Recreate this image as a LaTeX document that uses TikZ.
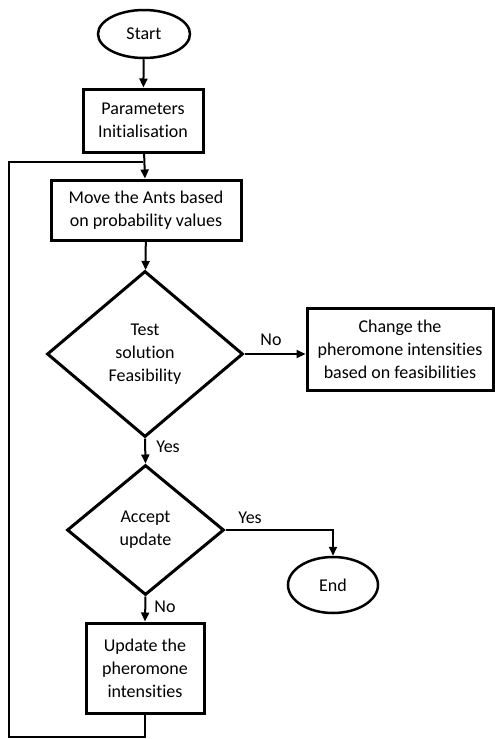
\documentclass[tikz,border=0pt]{standalone}
\usepackage{fontspec}
\setmainfont{Carlito}[Ligatures=NoCommon]
\usetikzlibrary{shapes.geometric,arrows.meta,positioning}

\tikzset{
  txt/.style={font=\fontsize{18}{23}\selectfont,align=center,inner sep=0pt},
  blk/.style={txt,draw,line width=3pt},
  term/.style={txt,draw,ellipse,line width=2.5pt},
  dec/.style={txt,draw,diamond,line width=3pt},
  flow/.style={line width=2pt,-{Triangle[length=9pt,width=8pt]}},
  link/.style={line width=2pt}
}

\begin{document}
\begin{tikzpicture}[x=1pt,y=-1pt]
\useasboundingbox (0,0) rectangle (495,739);
% Terminals
\node [term,minimum width=92pt,minimum height=48pt] (start) at (144,34) {Start};
\node [term,minimum width=90pt,minimum height=56pt] (end) at (333,585) {End};
% Process boxes
\node [blk,minimum width=120pt,minimum height=63pt] (param) at (143,120.5) {Parameters\\Initialisation};
\node [blk,minimum width=190pt,minimum height=60pt] (move) at (146,210) {Move the Ants based\\on probability values};
\node [blk,minimum width=186pt,minimum height=82pt] (change) at (400,349) {Change the\\pheromone intensities\\based on feasibilities};
\node [blk,minimum width=118pt,minimum height=90pt] (update) at (145,668) {Update the\\pheromone\\intensities};
% Decisions
\node [dec,minimum width=196pt,minimum height=166pt] (test) at (145,354) {Test\\solution\\Feasibility};
\node [dec,minimum width=157pt,minimum height=130pt] (accept) at (145.5,530) {Accept\\update};
% Loop corners
\coordinate (loopbot) at (9,737);
\coordinate (looptop) at (9,162);
% Connectors
\draw [flow] (start) -- (param);
\draw [flow] (param) -- (move);
\draw [flow] (move) -- (test);
\draw [flow] (test.east) -- (test.east -| change.west);
\draw [flow] (test.south) -- (accept.north);
\draw [flow] (accept.east) -| (end.north);
\draw [flow] (accept.south) -- (update.north);
\draw [link] (update.south) |- (loopbot) -- (looptop) -- (looptop -| param.south);
% Text Node
\node [txt] (lno) at (271,340) {No};
\node [txt] (lyes) at (168,447) {Yes};
\node [txt] (ryes) at (250,518) {Yes};
\node [txt] (bno) at (165,607) {No};
\end{tikzpicture}
\end{document}
